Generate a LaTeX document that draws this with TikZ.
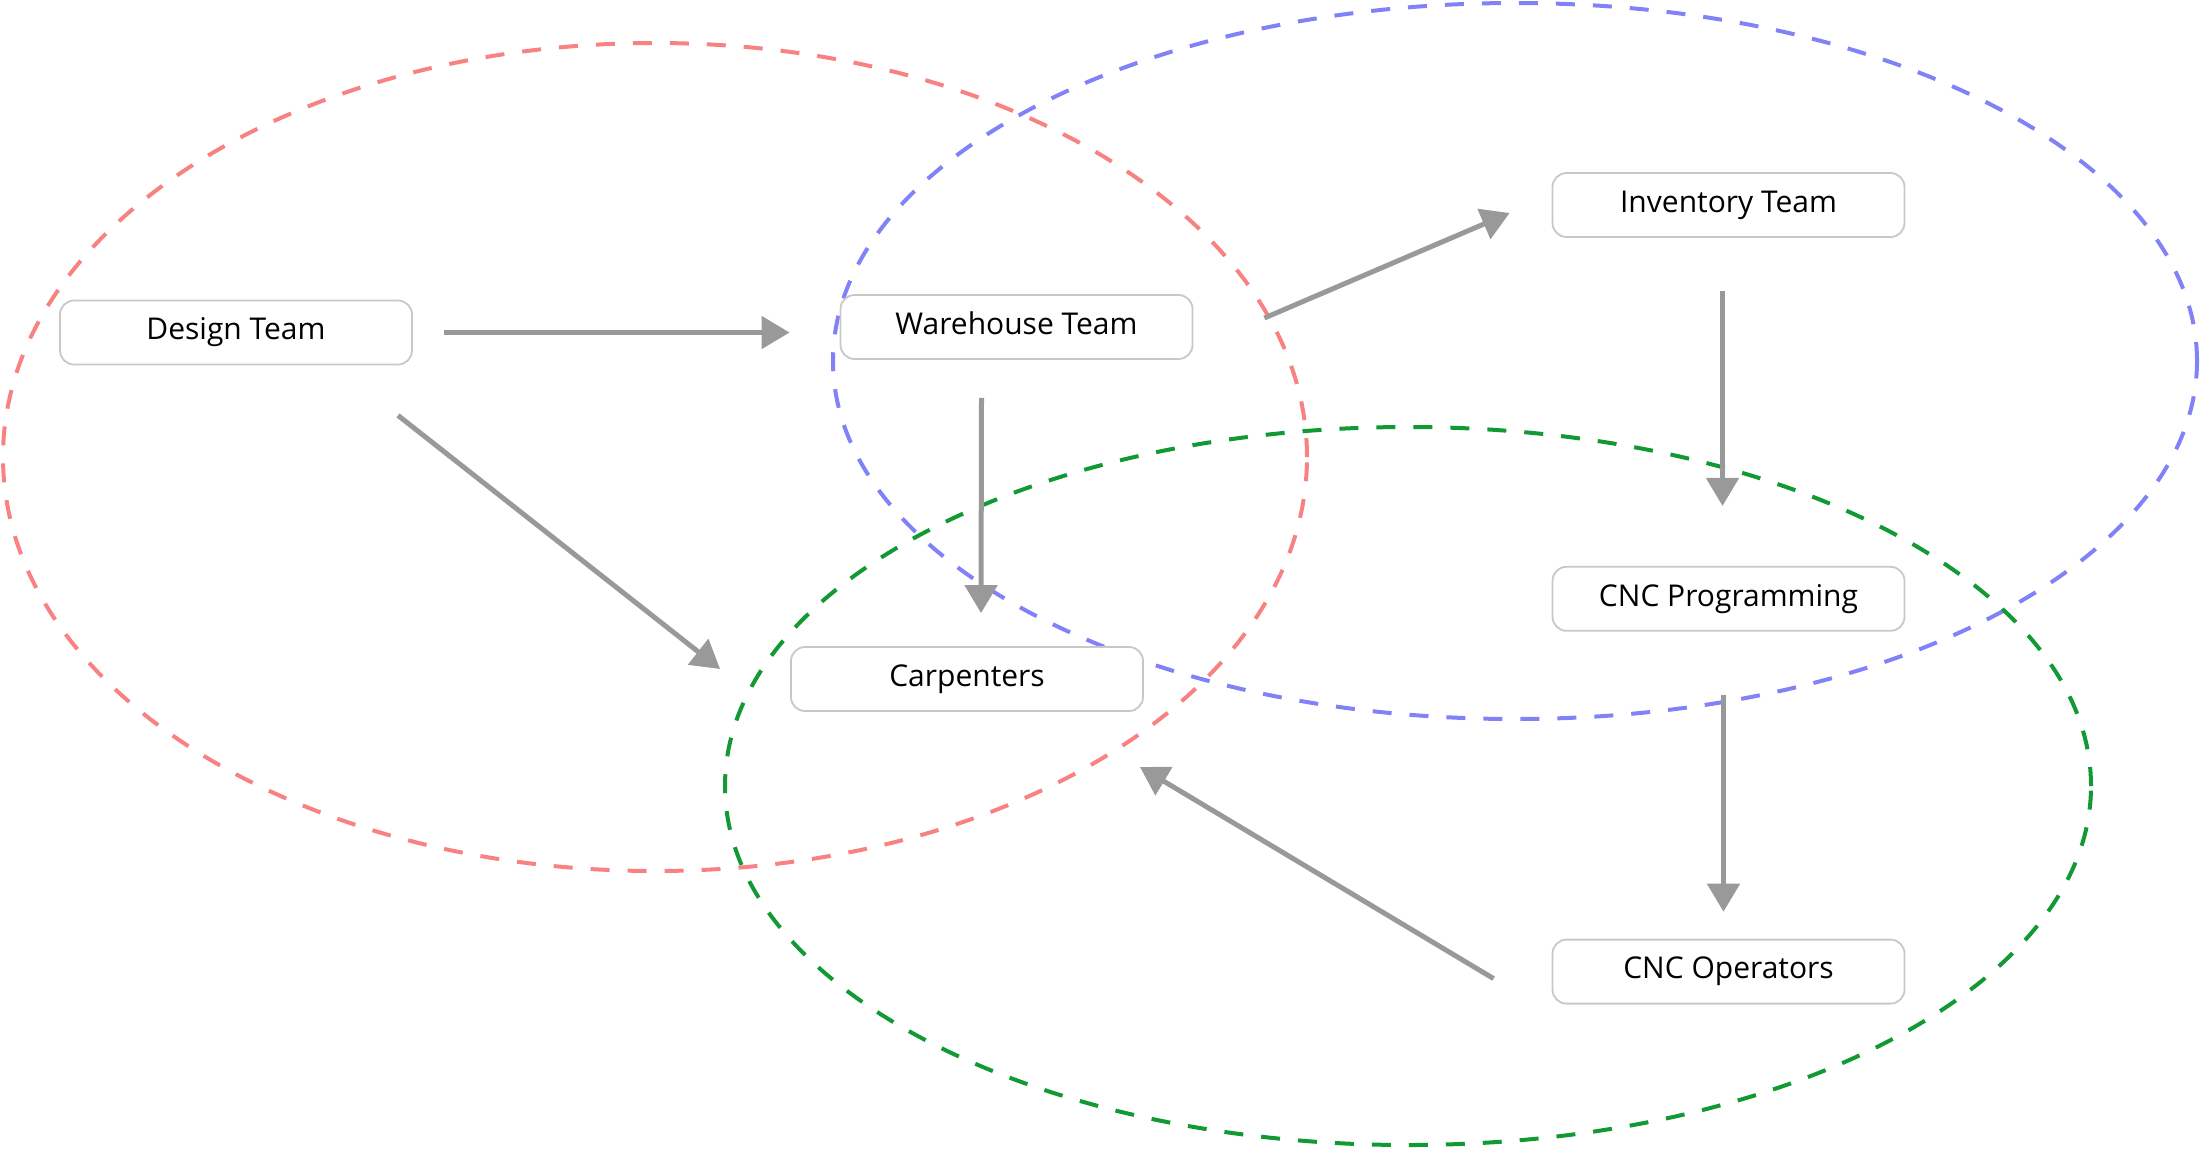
\documentclass[tikz,border=0pt]{standalone}
\usepackage{fontspec}
\setmainfont{Open Sans}
\usetikzlibrary{arrows.meta, positioning}
\definecolor{designred}{HTML}{F88282}
\definecolor{storeblue}{HTML}{8282F8}
\definecolor{shopgreen}{HTML}{119933}
\definecolor{boxgray}{HTML}{C8C8C8}
\definecolor{flowgray}{HTML}{999999}
\tikzset{
  team/.style={draw=boxgray, line width=0.9pt, rounded corners=7pt, fill=white,
    minimum width=176pt, minimum height=32pt, text height=0.72em, text depth=0pt,
    font=\fontsize{15}{18}\selectfont},
  flow/.style={-{Triangle[length=14pt,width=16pt]}, line width=2.5pt, draw=flowgray, color=flowgray},
  group/.style={dash pattern=on 9.5pt off 9pt, line width=2pt}
}

\begin{document}
\begin{tikzpicture}[x=0.5pt, y=-0.5pt]
  \useasboundingbox (0,0) rectangle (2200,1148);
  % dashed groups
  \draw[group, draw=designred] (655,457) ellipse [x radius=326pt, y radius=207pt];
  \draw[group, draw=storeblue] (1515,361) ellipse [x radius=341pt, y radius=179pt];
  \draw[group, draw=shopgreen] (1408,786) ellipse [x radius=341.5pt, y radius=179.5pt];
  % teams
  \node[team] (design) at (236,332.5) {Design Team};
  \node[team] (warehouse) at (1016.5,327) {Warehouse Team};
  \node[team] (carpenters) at (967,679) {Carpenters};
  \node[team] (inventory) at (1728.5,205) {Inventory Team};
  \node[team, below=164pt of inventory] (cncprog) {CNC Programming};
  \node[team, below=153.5pt of cncprog] (cncops) {CNC Operators};
  % flows
  \draw[flow, shorten <=15.5pt, shorten >=25pt] (design.east) -- (design.east -| warehouse.west);
  \draw[flow] ([shift={(162,50)}]design.south) -- ([shift={(-70,-10)}]carpenters.west);
  \draw[flow] ([shift={(-35,38)}]warehouse.south) -- ([shift={(14,-33)}]carpenters.north);
  \draw[flow] ([shift={(71,-9)}]warehouse.east) -- ([shift={(-42,8)}]inventory.west);
  \draw[flow] ([shift={(-6,53)}]inventory.south) -- ([shift={(-6,-60)}]cncprog.north);
  \draw[flow] ([shift={(-5,63)}]cncprog.south) -- ([shift={(-5,-27)}]cncops.north);
  \draw[flow] ([shift={(-58,7)}]cncops.west) -- ([shift={(-4,55)}]carpenters.south east);
\end{tikzpicture}
\end{document}
